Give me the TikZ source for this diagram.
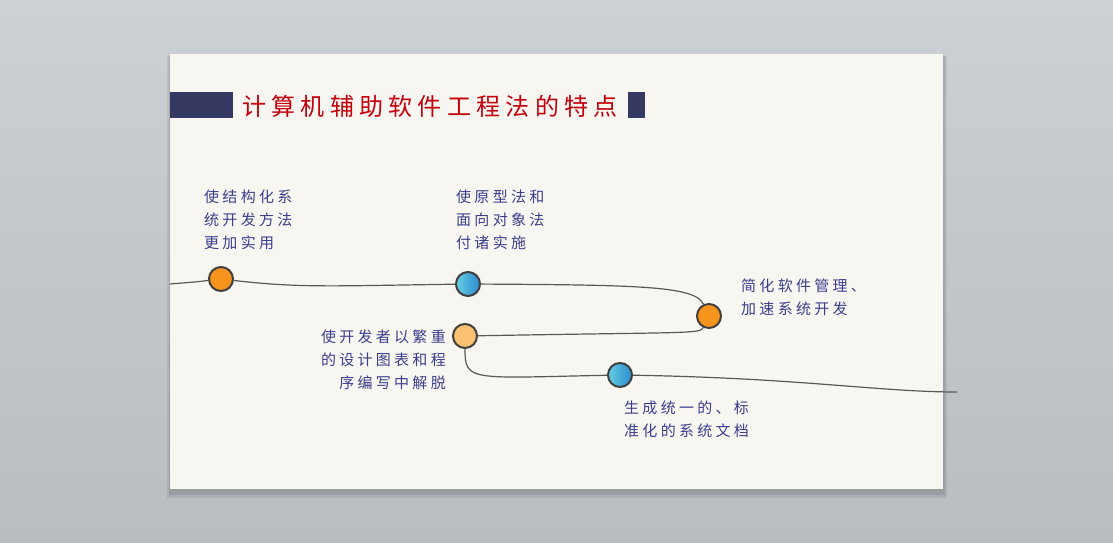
\documentclass[tikz,border=0pt]{standalone}
\usepackage{fontspec}
\newfontfamily\cjk[LetterSpace=22]{Noto Sans CJK SC}
\usetikzlibrary{positioning,calc}
\definecolor{navy}{HTML}{363A62}
\definecolor{titlered}{HTML}{C4000C}
\definecolor{notecol}{HTML}{3B3E8C}
\definecolor{paper}{HTML}{F8F6F1}
\definecolor{bgtop}{HTML}{CDD0D5}
\definecolor{bgbot}{HTML}{B9BCC1}
\definecolor{dotline}{HTML}{404040}
\definecolor{dotorange}{HTML}{F7941D}
\definecolor{dotpale}{HTML}{FCC171}
\definecolor{teallight}{HTML}{6AD0E2}
\definecolor{tealdark}{HTML}{3090D0}
\definecolor{trackcol}{HTML}{585858}
\tikzset{dot/.style={circle, minimum size=24pt, inner sep=0pt, draw=dotline, line width=2pt},
orange dot/.style={dot, fill=dotorange},
pale dot/.style={dot, fill=dotpale},
teal dot/.style={dot, left color=teallight, right color=tealdark, middle color=tealdark!60!teallight},
note/.style={font=\cjk\fontsize{15}{23}\selectfont, text=notecol, inner sep=0pt},
track/.style={draw=trackcol, line width=1.2pt}}

\begin{document}
\begin{tikzpicture}[x=1pt,y=-1pt]
        \useasboundingbox (0,0) rectangle (1113,543);
        \shade[top color=bgtop, bottom color=bgbot] (0,0) rectangle (1113,543);

        % slide with its shadow
        \fill[black, opacity=0.08] (167,56) rectangle (947,498);
        \fill[black, opacity=0.10] (169,55) rectangle (945,495);
        \fill[paper] (170,54) rectangle (943,489);

        % title
        \fill[navy] (170,92) rectangle (233,118);
        \fill[navy] (628,92) rectangle (645,118);
        \node[anchor=west, inner sep=0pt, text=titlered, font=\cjk\fontsize{24}{28}\selectfont] (title) at (242,106) {计算机辅助软件工程法的特点};

        \node[orange dot] (a) at (221,279) {};
        \node[teal dot] (b) at (468,284) {};
        \node[orange dot] (c) at (709,316) {};
        \node[pale dot] (d) at (465,336) {};
        \node[teal dot] (e) at (620,375) {};
        \coordinate (lin) at (170,284);
        \coordinate (lout) at (957,392);

        \draw[track] (lin) .. controls (195,282) .. (a);
        \draw[track] (a) .. controls (300,288) and (330,286) .. (b);
        \draw[track] (b) .. controls (640,285) and (695,286) .. (c);
        \draw[track] (c) .. controls (700,334) and (690,332) .. (d);
        \draw[track] (d) .. controls (465,382) and (470,378) .. (e);
        \draw[track] (e) .. controls (800,378) and (880,392) .. (lout);

        \node[note, anchor=north west, align=left] (n1) at (204,190) {使结构化系\\统开发方法\\更加实用};
        \node[note, anchor=north west, align=left] (n2) at (456,190) {使原型法和\\面向对象法\\付诸实施};
        \node[note, anchor=north west, align=left] (n3) at (741,279) {简化软件管理、\\加速系统开发};
        \node[note, anchor=north east, align=right] (n4) at (446,330) {使开发者以繁重\\的设计图表和程\\序编写中解脱};
        \node[note, anchor=north west, align=left] (n5) at (624,401) {生成统一的、标\\准化的系统文档};
    \end{tikzpicture}
\end{document}
